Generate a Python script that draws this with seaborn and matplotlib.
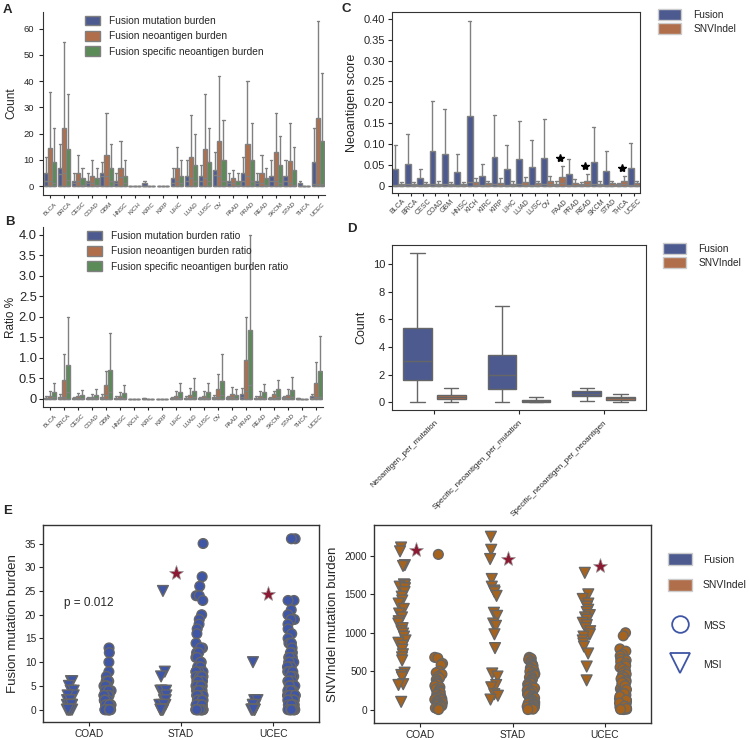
import numpy as np
import pandas as pd
import matplotlib
matplotlib.use("Agg")
import matplotlib.pyplot as plt
import matplotlib.patches as mpatches
from matplotlib.lines import Line2D
from matplotlib.ticker import FuncFormatter
import seaborn as sns

# ---------------- data ----------------
cancers = ["BLCA", "BRCA", "CESC", "COAD", "GBM", "HNSC", "KICH", "KIRC", "KIRP", "LIHC",
           "LUAD", "LUSC", "OV", "PAAD", "PRAD", "READ", "SKCM", "STAD", "THCA", "UCEC"]

# Panel A (box: Q1 = 0, whisker low = 0)
a_mut_q3 = [5, 7, 2, 2, 5, 2, 0, 1, 0, 3, 4, 4, 6, 2, 5, 2, 4, 4, 1, 9]
a_mut_med = [2, 4.7, 1, 1, 3.8, 1, 0, 0, 0, 1, 2, 2, 4.4, 1, 2, 1, 2, 2, 0, 0.6]
a_mut_max = [11, 16, 5, 5, 9, 5, 0.2, 2, 0, 7, 10, 8, 13, 5, 11, 5, 10, 10, 2, 22]
a_neo_q3 = [14.5, 22, 5, 4, 12, 7, 0, 0, 0, 7, 11, 14, 17, 3, 16, 5, 13, 9.7, 0, 26]
a_neo_med = [2, 4.9, 1.9, 1, 3.9, 3.4, 0, 0, 0, 2, 3, 3, 4, 1, 4, 1, 2, 1, 0, 0.6]
a_neo_max = [36, 55, 12, 10, 28, 17, 0.2, 0.2, 0, 15, 27, 35, 42, 6, 40, 12, 28, 24, 0, 63]
a_spec_q3 = [9, 14, 3, 3, 7, 4, 0, 0, 0, 4, 8, 9, 10, 2, 10, 3, 8, 6, 0, 17.3]
a_spec_med = [1, 2.4, 0.5, 0.5, 2, 1, 0, 0, 0, 1, 1.8, 1.8, 2, 0.5, 1.8, 0.5, 1, 0.5, 0, 0.6]
a_spec_max = [22, 35, 7, 7, 16, 10, 0.2, 0.2, 0, 10, 20, 22, 25, 5, 24, 7, 19, 15, 0, 43]
a_labels = ["Fusion mutation burden", "Fusion neoantigen burden", "Fusion specific neoantigen burden"]

# Panel B
b_mut_q3 = [0.03, 0.05, 0.02, 0.02, 0.05, 0.03, 0, 0.01, 0, 0.02, 0.03, 0.02, 0.04, 0.04, 0.12, 0.03, 0.02, 0.04, 0.01, 0.06]
b_mut_med = [0.01, 0.02, 0.01, 0.01, 0.02, 0.01, 0, 0, 0, 0.01, 0.01, 0.01, 0.01, 0.01, 0.05, 0.01, 0.01, 0.01, 0, 0.02]
b_mut_max = [0.08, 0.12, 0.05, 0.05, 0.12, 0.06, 0, 0.02, 0, 0.05, 0.06, 0.05, 0.09, 0.08, 0.26, 0.06, 0.05, 0.08, 0.03, 0.12]
b_neo_q3 = [0.07, 0.45, 0.06, 0.05, 0.33, 0.07, 0, 0, 0, 0.08, 0.1, 0.08, 0.24, 0.12, 0.95, 0.08, 0.11, 0.1, 0, 0.38]
b_neo_med = [0.02, 0.05, 0.02, 0.02, 0.1, 0.02, 0, 0, 0, 0.02, 0.03, 0.02, 0.05, 0.04, 0.2, 0.02, 0.03, 0.03, 0, 0.05]
b_neo_max = [0.18, 1.1, 0.14, 0.12, 0.68, 0.17, 0, 0, 0, 0.2, 0.26, 0.18, 0.6, 0.28, 2.0, 0.18, 0.2, 0.25, 0, 0.9]
b_spec_q3 = [0.17, 0.82, 0.1, 0.1, 0.7, 0.14, 0, 0, 0, 0.17, 0.2, 0.16, 0.44, 0.1, 1.67, 0.17, 0.23, 0.21, 0, 0.67]
b_spec_med = [0.04, 0.17, 0.02, 0.02, 0.17, 0.03, 0, 0, 0, 0.03, 0.04, 0.03, 0.1, 0.03, 0.33, 0.03, 0.05, 0.04, 0, 0.05]
b_spec_max = [0.38, 2.0, 0.21, 0.25, 1.6, 0.33, 0, 0, 0, 0.38, 0.5, 0.38, 1.1, 0.24, 4.0, 0.35, 0.46, 0.52, 0, 1.53]
b_labels = ["Fusion mutation burden ratio", "Fusion neoantigen burden ratio",
            "Fusion specific neoantigen burden ratio"]

# Panel C
c_fus_q3 = [0.040, 0.051, 0.017, 0.083, 0.075, 0.032, 0.168, 0.023, 0.069, 0.040,
            0.063, 0.045, 0.066, 0.004, 0.027, 0.004, 0.057, 0.034, 0.003, 0.042]
c_fus_max = [0.098, 0.124, 0.040, 0.204, 0.185, 0.076, 0.395, 0.051, 0.169, 0.097,
             0.156, 0.110, 0.161, 0.011, 0.064, 0.008, 0.140, 0.082, 0.005, 0.102]
c_snv_q3 = [0.003, 0.003, 0.003, 0.004, 0.003, 0.003, 0.008, 0.005, 0.007, 0.004,
            0.008, 0.005, 0.010, 0.020, 0.007, 0.012, 0.004, 0.005, 0.010, 0.005]
c_snv_max = [0.008, 0.009, 0.008, 0.011, 0.009, 0.008, 0.019, 0.012, 0.017, 0.011,
             0.021, 0.012, 0.024, 0.047, 0.016, 0.028, 0.010, 0.012, 0.023, 0.012]
c_star_cancers = ["PAAD", "READ", "THCA"]
c_star_values = [0.065, 0.048, 0.042]
c_groups = ["Fusion", "SNVIndel"]

# Panel D (min, Q1, median, Q3, max)
d_categories = ["Neoantigen_per_mutation", "Specific_neoantigen_per_mutation",
                "Specific_neoantigen_per_neoantigen"]
d_fusion = [[0.05, 1.6, 3.0, 5.35, 10.85], [0.05, 0.95, 2.0, 3.45, 7.0], [0.1, 0.45, 0.6, 0.8, 1.0]]
d_snv = [[0.0, 0.25, 0.4, 0.55, 1.0], [0.0, 0.05, 0.1, 0.15, 0.35], [0.05, 0.2, 0.3, 0.4, 0.6]]

# Panel E
e_cancers = ["COAD", "STAD", "UCEC"]
e_fus_coad_msi = [6, 6, 5, 4, 4, 3, 3, 2, 2, 2, 1, 1, 1, 1, 1, 1, 0, 0, 0, 0, 0, 0, 0, 0]
e_fus_coad_mss = [13, 12, 10, 8, 7, 6, 6, 6, 5, 5, 5, 5, 4, 4, 4, 4, 3, 3, 3, 3, 3, 2, 2, 2, 2, 2, 2,
                  1, 1, 1, 1, 1, 1, 1, 1, 0, 0, 0, 0, 0, 0, 0, 0, 0, 0, 0, 0]
e_fus_stad_msi = [25, 8, 7, 4, 4, 4, 3, 2, 2, 1, 1, 1, 1, 0, 0, 0, 0, 0, 0]
e_fus_stad_mss = [35, 28, 26, 24, 24, 23, 20, 19, 18, 17, 16, 14, 13, 13, 12, 12, 11, 11, 10, 10, 9, 9, 9,
                  8, 8, 8, 8, 7, 7, 7, 7, 6, 6, 6, 6, 6, 5, 5, 5, 5, 5, 5, 4, 4, 4, 4, 4, 4, 4,
                  3, 3, 3, 3, 3, 3, 3, 2, 2, 2, 2, 2, 2, 2, 2, 1, 1, 1, 1, 1, 1, 1, 1, 1, 1,
                  0, 0, 0, 0, 0, 0, 0, 0, 0, 0, 0, 0, 0, 0, 0]
e_fus_ucec_msi = [10, 2, 2, 1, 1, 1, 0, 0, 0, 0, 0, 0, 0]
e_fus_ucec_mss = [36, 36, 23, 23, 21, 20, 19, 19, 18, 17, 16, 15, 14, 14, 14, 13, 12, 12, 11, 11, 11,
                  10, 10, 10, 9, 9, 9, 8, 8, 8, 8, 7, 7, 7, 7, 6, 6, 6, 6, 6, 5, 5, 5, 5, 5, 5,
                  4, 4, 4, 4, 4, 4, 3, 3, 3, 3, 3, 3, 3, 2, 2, 2, 2, 2, 2, 2, 2, 1, 1, 1, 1, 1, 1, 1, 1,
                  0, 0, 0, 0, 0, 0, 0, 0, 0, 0, 0, 0]
e_snv_coad_msi = [2110, 2060, 1880, 1870, 1630, 1620, 1600, 1580, 1530, 1470, 1420, 1380, 1310, 1250,
                  1200, 1150, 1120, 1060, 1020, 990, 950, 900, 870, 830, 780, 720, 680, 640, 480, 450,
                  420, 330, 320, 100]
e_snv_coad_mss = [2020, 680, 670, 600, 580, 500, 480, 460, 430, 410, 390, 370, 350, 330, 310, 290, 270,
                  260, 240, 225, 210, 195, 180, 165, 150, 140, 130, 120, 110, 100, 90, 80, 70, 60, 50,
                  40, 30, 20, 10, 0]
e_snv_stad_msi = [2250, 2080, 1960, 1700, 1600, 1550, 1530, 1480, 1260, 1220, 1120, 1090, 980, 800, 470,
                  430, 320, 290, 200, 180, 130]
e_snv_stad_mss = [680, 665, 650, 630, 610, 590, 575, 560, 540, 525, 510, 495, 480, 465, 450, 435, 420,
                  405, 390, 375, 360, 345, 330, 315, 300, 290, 280, 265, 250, 240, 230, 215, 200, 190,
                  180, 170, 160, 150, 140, 130, 120, 110, 100, 95, 90, 80, 70, 65, 60, 50, 40, 35, 30,
                  20, 15, 10, 5, 0]
e_snv_ucec_msi = [1780, 1500, 1440, 1380, 1340, 1300, 1270, 1230, 1200, 1170, 1130, 1100, 1060, 1020,
                  980, 950, 900, 860, 820, 730, 560, 380]
e_snv_ucec_mss = [1000, 960, 790, 760, 720, 700, 660, 640, 620, 600, 570, 550, 530, 500, 480, 460, 440,
                  420, 400, 380, 360, 340, 320, 300, 290, 270, 250, 240, 220, 200, 190, 180, 160, 150,
                  140, 130, 120, 110, 100, 90, 80, 70, 60, 50, 40, 30, 20, 10, 5, 0, 350, 310, 260,
                  210, 170, 125, 85, 45, 15, 2]
e_fus_stars = {"STAD": 28.7, "UCEC": 24.3}
e_snv_stars = {"COAD": 2080, "STAD": 1960, "UCEC": 1870}

# ---------------- style ----------------
sns.set_style("ticks")
plt.rcParams["font.family"] = ["Liberation Sans", "DejaVu Sans"]
plt.rcParams["axes.edgecolor"] = "0.2"

BLUE = "#4D5A90"
ORANGE = "#B06E4B"
GREEN = "#5B8B57"
PT_BLUE = "#3F55A5"
PT_ORANGE = "#A5631E"
STAR_RED = "#8C1A32"
LINE = "0.5"

fig = plt.figure(figsize=(7.5, 7.4), dpi=100)
W, H = 750.0, 740.0


def add_ax(l, t, r, b):
    return fig.add_axes([l / W, 1 - b / H, (r - l) / W, (b - t) / H])


def long_from(labels, stats_lists):
    rows = []
    for lab, (q3s, meds, maxs) in zip(labels, stats_lists):
        for c, q3, md, mx in zip(cancers, q3s, meds, maxs):
            for v in [0, 0, md, q3, mx]:
                rows.append((c, lab, v))
    return pd.DataFrame(rows, columns=["cancer", "metric", "value"])


def style_xt(ax, fs, rot=45, ha="center"):
    for t in ax.get_xticklabels():
        t.set_rotation(rot)
        t.set_fontsize(fs)
        t.set_ha(ha)
        t.set_color("0.25")


# ---------------- Panel A ----------------
axA = add_ax(43, 12, 325, 195)
dfA = long_from(a_labels, [(a_mut_q3, a_mut_med, a_mut_max),
                           (a_neo_q3, a_neo_med, a_neo_max),
                           (a_spec_q3, a_spec_med, a_spec_max)])
sns.boxplot(data=dfA, x="cancer", y="value", hue="metric", order=cancers, hue_order=a_labels,
            palette=[BLUE, ORANGE, GREEN], whis=(0, 100), showfliers=False, width=0.9,
            saturation=1, linewidth=1, linecolor=LINE, ax=axA, legend=False)
axA.set_ylim(-3.4, 66.3)
axA.set_xlim(-0.5, 19.5)
axA.set_yticks([0, 10, 20, 30, 40, 50, 60])
axA.set_xlabel("")
axA.set_ylabel("Count", fontsize=8.5)
axA.tick_params(axis="y", labelsize=6.8, length=3)
axA.tick_params(axis="x", length=2.5, pad=2)
style_xt(axA, 4.5)
sns.despine(ax=axA)
hA = [mpatches.Patch(facecolor=c, edgecolor=LINE, label=l) for c, l in zip([BLUE, ORANGE, GREEN], a_labels)]
axA.legend(handles=hA, loc="upper left", bbox_to_anchor=(0.115, 1.03), frameon=False,
           fontsize=7.3, handlelength=1.5, handleheight=1.1, labelspacing=0.5, handletextpad=0.9)

# ---------------- Panel B ----------------
axB = add_ax(43, 227, 323, 407)
dfB = long_from(b_labels, [(b_mut_q3, b_mut_med, b_mut_max),
                           (b_neo_q3, b_neo_med, b_neo_max),
                           (b_spec_q3, b_spec_med, b_spec_max)])
sns.boxplot(data=dfB, x="cancer", y="value", hue="metric", order=cancers, hue_order=b_labels,
            palette=[BLUE, ORANGE, GREEN], whis=(0, 100), showfliers=False, width=0.9,
            saturation=1, linewidth=1, linecolor=LINE, ax=axB, legend=False)
axB.set_ylim(-0.2, 4.19)
axB.set_xlim(-0.5, 19.5)
axB.set_yticks([0, 0.5, 1.0, 1.5, 2.0, 2.5, 3.0, 3.5, 4.0])
axB.yaxis.set_major_formatter(FuncFormatter(lambda v, p: "0" if v == 0 else f"{v:.1f}"))
axB.set_xlabel("")
axB.set_ylabel("Ratio %", fontsize=8.5, labelpad=1)
axB.tick_params(axis="y", labelsize=9.3, length=3, pad=1.5)
axB.tick_params(axis="x", length=2.5, pad=2)
style_xt(axB, 4.5)
sns.despine(ax=axB)
hB = [mpatches.Patch(facecolor=c, edgecolor=LINE, label=l) for c, l in zip([BLUE, ORANGE, GREEN], b_labels)]
axB.legend(handles=hB, loc="upper left", bbox_to_anchor=(0.125, 1.03), frameon=False,
           fontsize=7.3, handlelength=1.5, handleheight=1.1, labelspacing=0.5, handletextpad=0.9)

# ---------------- Panel C ----------------
axC = add_ax(392, 12, 640, 193)
rowsC = []
for c, q3, mx in zip(cancers, c_fus_q3, c_fus_max):
    for v in [0, 0, q3 * 0.05, q3, mx]:
        rowsC.append((c, "Fusion", v))
for c, q3, mx in zip(cancers, c_snv_q3, c_snv_max):
    for v in [0, 0, q3 * 0.3, q3, mx]:
        rowsC.append((c, "SNVIndel", v))
dfC = pd.DataFrame(rowsC, columns=["cancer", "group", "value"])
sns.boxplot(data=dfC, x="cancer", y="value", hue="group", order=cancers, hue_order=c_groups,
            palette=[BLUE, ORANGE], whis=(0, 100), showfliers=False, width=0.95,
            saturation=1, linewidth=1, linecolor=LINE, ax=axC, legend=False)
for c, v in zip(c_star_cancers, c_star_values):
    axC.plot(cancers.index(c) + 0.05, v, marker="*", color="black", markersize=6, ls="")
axC.set_ylim(-0.018, 0.417)
axC.set_xlim(-0.5, 19.5)
axC.set_yticks([0, 0.05, 0.10, 0.15, 0.20, 0.25, 0.30, 0.35, 0.40])
axC.yaxis.set_major_formatter(FuncFormatter(lambda v, p: "0" if abs(v) < 1e-9 else f"{v:.2f}"))
axC.set_xlabel("")
axC.set_ylabel("Neoantigen score", fontsize=9)
axC.tick_params(axis="y", labelsize=8, length=3, pad=2)
axC.tick_params(axis="x", length=2.5, pad=1)
style_xt(axC, 5)
hC = [mpatches.Patch(facecolor=c, edgecolor="0.8", label=l) for c, l in zip([BLUE, ORANGE], c_groups)]
fig.legend(handles=hC, loc="upper left", bbox_to_anchor=(649 / W, 1 - 0 / H), frameon=False,
           fontsize=7.3, handlelength=2.3, handleheight=1.2, labelspacing=0.35, handletextpad=1.2)

# ---------------- Panel D ----------------
axD = add_ax(392, 245, 646, 410)
rowsD = []
for cat, s in zip(d_categories, d_fusion):
    for v in s:
        rowsD.append((cat, "Fusion", v))
for cat, s in zip(d_categories, d_snv):
    for v in s:
        rowsD.append((cat, "SNVIndel", v))
dfD = pd.DataFrame(rowsD, columns=["cat", "group", "value"])
sns.boxplot(data=dfD, x="cat", y="value", hue="group", order=d_categories, hue_order=c_groups,
            palette=[BLUE, ORANGE], whis=(0, 100), showfliers=False, width=0.8, gap=0.15,
            saturation=1, linewidth=1, linecolor="0.4", ax=axD, legend=False)
axD.set_ylim(-0.56, 11.4)
axD.set_yticks([0, 2, 4, 6, 8, 10])
axD.set_xlabel("")
axD.set_ylabel("Count", fontsize=9)
axD.tick_params(axis="y", labelsize=8, length=3, pad=2)
axD.tick_params(axis="x", length=3)
for t in axD.get_xticklabels():
    t.set_rotation(45)
    t.set_ha("right")
    t.set_rotation_mode("anchor")
    t.set_fontsize(5.8)
hD = [mpatches.Patch(facecolor=c, edgecolor="0.8", label=l) for c, l in zip([BLUE, ORANGE], c_groups)]
fig.legend(handles=hD, loc="upper left", bbox_to_anchor=(654 / W, 1 - 234 / H), frameon=False,
           fontsize=7.3, handlelength=2.3, handleheight=1.2, labelspacing=0.35, handletextpad=1.2)

# ---------------- Panel E ----------------
np.random.seed(3)


def e_frame(msi_lists, mss_lists):
    rows = []
    for c, vals in zip(e_cancers, msi_lists):
        for v in vals:
            rows.append((c, "MSI", v))
    for c, vals in zip(e_cancers, mss_lists):
        for v in vals:
            rows.append((c, "MSS", v))
    return pd.DataFrame(rows, columns=["cancer", "status", "value"])


def e_panel(ax, df, color, stars):
    for st, mk in [("MSI", "v"), ("MSS", "o")]:
        sub = df[df["status"] == st]
        sns.stripplot(data=sub, x="cancer", y="value", hue="status", order=e_cancers,
                      hue_order=["MSI", "MSS"], palette={"MSI": color, "MSS": color},
                      dodge=True, jitter=0.085, size=7 if mk == "o" else 7.8, marker=mk,
                      linewidth=1, edgecolor="0.4", ax=ax, legend=False)
    for c, v in stars.items():
        ax.plot(e_cancers.index(c) - 0.05, v, marker="*", color=STAR_RED, markersize=11,
                ls="", markeredgecolor="0.6", markeredgewidth=0.5)
    ax.set_xlim(-0.5, 2.5)
    ax.set_xlabel("")
    ax.tick_params(axis="both", labelsize=7.3, length=3, pad=2)
    for sp in ax.spines.values():
        sp.set_linewidth(1.0)


axE1 = add_ax(43, 525, 319, 722)
dfE1 = e_frame([e_fus_coad_msi, e_fus_stad_msi, e_fus_ucec_msi],
               [e_fus_coad_mss, e_fus_stad_mss, e_fus_ucec_mss])
e_panel(axE1, dfE1, PT_BLUE, e_fus_stars)
axE1.set_ylim(-2.6, 38.9)
axE1.set_yticks([0, 5, 10, 15, 20, 25, 30, 35])
axE1.set_ylabel("Fusion mutation burden", fontsize=9.5)
axE1.text(-0.27, 22.5, "p = 0.012", fontsize=8.5, va="center", ha="left")

axE2 = add_ax(374, 525, 651, 723)
dfE2 = e_frame([e_snv_coad_msi, e_snv_stad_msi, e_snv_ucec_msi],
               [e_snv_coad_mss, e_snv_stad_mss, e_snv_ucec_mss])
e_panel(axE2, dfE2, PT_ORANGE, e_snv_stars)
axE2.set_ylim(-175, 2403)
axE2.set_yticks([0, 500, 1000, 1500, 2000])
axE2.set_ylabel("SNVIndel mutation burden", fontsize=9.5)

hE1 = [mpatches.Patch(facecolor=c, edgecolor="0.8", label=l) for c, l in zip([BLUE, ORANGE], c_groups)]
fig.legend(handles=hE1, loc="upper left", bbox_to_anchor=(659 / W, 1 - 544 / H), frameon=False,
           fontsize=7.5, handlelength=2.3, handleheight=1.3, labelspacing=1.4, handletextpad=1.0)
hE2 = [Line2D([], [], marker="o", ls="", markerfacecolor="none", markeredgecolor=PT_BLUE,
              markersize=12, markeredgewidth=1.3, label="MSS"),
       Line2D([], [], marker="v", ls="", markerfacecolor="none", markeredgecolor=PT_BLUE,
              markersize=14, markeredgewidth=1.3, label="MSI")]
fig.legend(handles=hE2, loc="upper left", bbox_to_anchor=(659 / W, 1 - 610 / H), frameon=False,
           fontsize=7.5, handlelength=2.3, handleheight=1.6, labelspacing=2.4, handletextpad=1.0)

# panel letters
for lab, x, y in [("A", 3, 4), ("B", 5, 216), ("C", 342, 3), ("D", 347, 223), ("E", 3, 505)]:
    fig.text(x / W, 1 - y / H, lab, fontsize=9.5, fontweight="bold", va="top", ha="left")

fig.savefig("out.png", dpi=100)
